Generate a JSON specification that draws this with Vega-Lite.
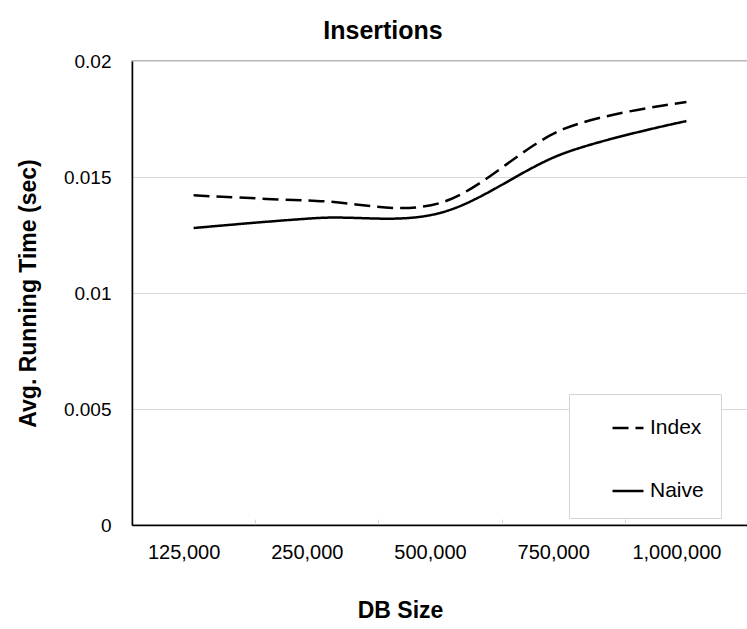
{
  "$schema": "https://vega.github.io/schema/vega-lite/v6.json",
  "width": 616,
  "height": 464,
  "autosize": {"type": "none"},
  "padding": {"left": 132, "top": 61, "right": 0, "bottom": 104},
  "background": "white",
  "title": {
    "text": "Insertions",
    "font": "Liberation Sans",
    "fontSize": 25,
    "fontWeight": "bold",
    "color": "black",
    "anchor": "middle",
    "dx": -57,
    "offset": 8
  },
  "config": {
    "view": {"stroke": "#a0a0a0", "strokeWidth": 1.5},
    "font": "Liberation Sans",
    "axis": {
      "labelFont": "Liberation Sans",
      "titleFont": "Liberation Sans",
      "labelColor": "black",
      "titleColor": "black",
      "domainColor": "black",
      "domainWidth": 1.5
    }
  },
  "data": {
    "values": [
      {"size": "125,000", "series": "Index", "time": 0.01421},
      {"size": "250,000", "series": "Index", "time": 0.01397},
      {"size": "500,000", "series": "Index", "time": 0.01388},
      {"size": "750,000", "series": "Index", "time": 0.01706},
      {"size": "1,000,000", "series": "Index", "time": 0.01823},
      {"size": "125,000", "series": "Naive", "time": 0.0128},
      {"size": "250,000", "series": "Naive", "time": 0.01323},
      {"size": "500,000", "series": "Naive", "time": 0.01345},
      {"size": "750,000", "series": "Naive", "time": 0.01601},
      {"size": "1,000,000", "series": "Naive", "time": 0.01741}
    ]
  },
  "mark": {"type": "line", "interpolate": "cardinal", "strokeWidth": 2.5, "color": "black"},
  "encoding": {
    "x": {
      "field": "size",
      "type": "nominal",
      "scale": {
        "type": "band",
        "domain": ["125,000", "250,000", "500,000", "750,000", "1,000,000"],
        "paddingInner": 0,
        "paddingOuter": 0
      },
      "axis": {
        "title": "DB Size",
        "titleFontSize": 23,
        "titleFontWeight": "bold",
        "titleX": 268,
        "titleY": 85,
        "titleAlign": "center",
        "titleBaseline": "middle",
        "labelAngle": 0,
        "labelFontSize": 20,
        "labelPadding": 23,
        "labelOffset": -10,
        "ticks": true,
        "tickBand": "extent",
        "tickColor": "#d9d9d9",
        "tickSize": -6,
        "grid": false
      }
    },
    "y": {
      "field": "time",
      "type": "quantitative",
      "scale": {"domain": [0, 0.02], "nice": false},
      "axis": {
        "title": "Avg. Running Time (sec)",
        "titleFontSize": 23,
        "titleFontWeight": "bold",
        "titleX": -104,
        "titleY": 232,
        "titleBaseline": "middle",
        "values": [0, 0.005, 0.01, 0.015, 0.02],
        "format": "~g",
        "labelFontSize": 19,
        "labelPadding": 21,
        "ticks": false,
        "tickSize": 0,
        "grid": true,
        "gridColor": "#d9d9d9",
        "gridWidth": 1.2
      }
    },
    "strokeDash": {
      "field": "series",
      "type": "nominal",
      "scale": {"domain": ["Index", "Naive"], "range": [[16, 7], [1, 0]]},
      "legend": {
        "title": null,
        "orient": "none",
        "legendX": 437,
        "legendY": 333,
        "fillColor": "white",
        "strokeColor": "#d4d4d4",
        "padding": 17,
        "symbolType": "stroke",
        "symbolSize": 961,
        "symbolStrokeWidth": 2.5,
        "symbolStrokeColor": "black",
        "symbolOffset": 25,
        "labelFontSize": 21,
        "labelColor": "black",
        "labelOffset": 5,
        "rowPadding": 36
      }
    }
  }
}
